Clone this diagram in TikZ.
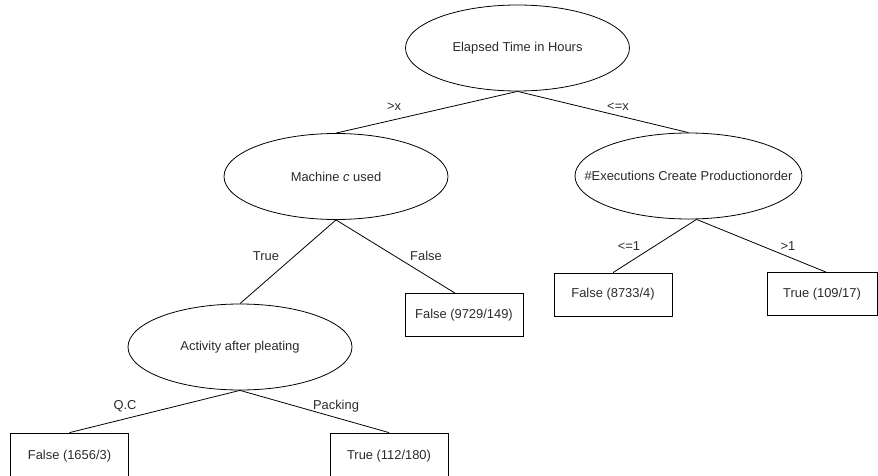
\documentclass[tikz,border=0pt]{standalone}
\usepackage{fontspec}
\setmainfont{Liberation Sans}
\usetikzlibrary{shapes.geometric}
\definecolor{txt}{HTML}{2B2B2B}
\tikzset{
  dnode/.style={ellipse, draw=black, line width=0.8pt, minimum width=224pt, minimum height=86pt, inner sep=0pt, text=txt, font=\fontsize{12.9}{15}\selectfont},
  leaf/.style={rectangle, draw=black, line width=0.8pt, minimum width=118pt, minimum height=43pt, inner sep=0pt, text=txt, font=\fontsize{12.9}{15}\selectfont},
  conn/.style={draw=black, line width=0.8pt},
  elabel/.style={text=txt, font=\fontsize{12.9}{15}\selectfont, inner sep=0pt}
}
\begin{document}
\begin{tikzpicture}[x=1pt,y=-1pt]
\useasboundingbox (0,0) rectangle (878,476);
\clip (0,0) rectangle (878,476);
% decision nodes
\node[dnode] (root) at (517.5,48) {Elapsed Time in Hours};
\node[dnode] (mach) at (336,176.5) {Machine \textit{c} used};
\node[dnode, minimum width=227pt] (exec) at (688.5,176) {\makebox[0pt]{\#Executions Create Productionorder}};
\node[dnode] (act)  at (240,347) {Activity after pleating};
% leaves
\node[leaf] (f9729) at (464,315) {False (9729/149)};
\node[leaf] (f8733) at (613,294.5) {False (8733/4)};
\node[leaf, minimum width=110pt] (t109) at (822,294) {True (109/17)};
\node[leaf, minimum height=46pt] (f1656) at (69.5,456) {False (1656/3)};
\node[leaf, minimum height=46pt] (t112) at (389,456) {True (112/180)};
% connectors
\draw[conn] (root.south) -- (mach.north);
\draw[conn] (root.south) -- (exec.north);
\draw[conn] (mach.south) -- (act.north);
\draw[conn] (mach.south) -- ([xshift=-9pt]f9729.north);
\draw[conn] ([xshift=8pt]exec.south) -- (f8733.north);
\draw[conn] ([xshift=8pt]exec.south) -- ([xshift=4pt]t109.north);
\draw[conn] (act.south) -- (f1656.north);
\draw[conn] (act.south) -- (t112.north);
% edge labels
\node[elabel] (lgx) at (394,107) {>x};
\node[elabel] (llex) at (618,107) {<=x};
\node[elabel] (ltrue) at (266,256) {True};
\node[elabel] (lfalse) at (426,256) {False};
\node[elabel] (lle1) at (629,246) {<=1};
\node[elabel] (lg1) at (788,246) {>1};
\node[elabel] (lqc) at (125,406) {Q.C};
\node[elabel] (lpack) at (336,406) {Packing};
\end{tikzpicture}
\end{document}
